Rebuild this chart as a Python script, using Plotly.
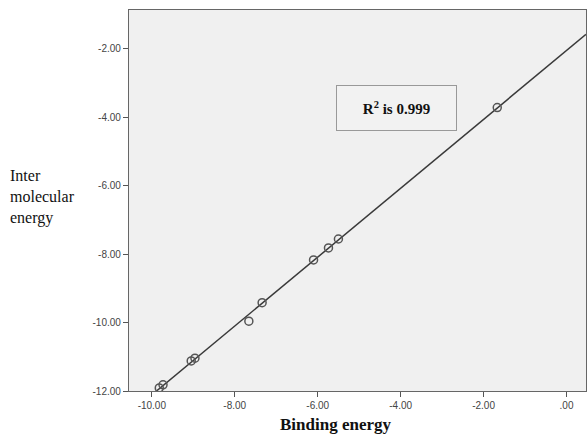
import numpy as np
import plotly.graph_objects as go

binding_energy = [-9.82, -9.73, -9.05, -8.96, -7.66, -7.34, -6.10, -5.74, -5.50, -1.67]
inter_energy = [-11.91, -11.82, -11.12, -11.04, -9.96, -9.42, -8.17, -7.82, -7.56, -3.72]

x_ticks = [-10, -8, -6, -4, -2, 0]
x_tick_labels = ["-10.00", "-8.00", "-6.00", "-4.00", "-2.00", ".00"]
y_ticks = [-2, -4, -6, -8, -10, -12]
y_tick_labels = ["-2.00", "-4.00", "-6.00", "-8.00", "-10.00", "-12.00"]

x_range = [-10.55, 0.47]
y_range = [-12.0, -0.87]

slope, intercept = np.polyfit(binding_energy, inter_energy, 1)
line_x = np.array(x_range)
line_y = slope * line_x + intercept

fig = go.Figure()
fig.add_trace(go.Scatter(x=line_x, y=line_y, mode="lines",
                         line=dict(color="#3a3a3a", width=1.5),
                         showlegend=False, hoverinfo="skip"))
fig.add_trace(go.Scatter(x=binding_energy, y=inter_energy, mode="markers",
                         marker=dict(symbol="circle-open", size=8,
                                     color="#555555", line=dict(width=1.5)),
                         showlegend=False))

fig.update_layout(
    width=587, height=436,
    margin=dict(l=129, r=1, t=10, b=45),
    paper_bgcolor="white",
    plot_bgcolor="#f0f0f0",
    font=dict(family="Liberation Sans, Arial", size=10, color="#444444"),
    xaxis=dict(range=x_range, tickvals=x_ticks, ticktext=x_tick_labels,
               showgrid=False, zeroline=False, ticks="outside", ticklen=5,
               tickcolor="#555555", showline=True, linecolor="#666666",
               linewidth=1.2, mirror=True),
    yaxis=dict(range=y_range, tickvals=y_ticks, ticktext=y_tick_labels,
               showgrid=False, zeroline=False, ticks="outside", ticklen=5,
               tickcolor="#555555", showline=True, linecolor="#666666",
               linewidth=1.2, mirror=True),
    annotations=[
        dict(text="Inter<br>molecular<br>energy", xref="paper", yref="paper",
             x=-121/457, y=0.51, xanchor="left", yanchor="middle", align="left",
             showarrow=False,
             font=dict(family="Liberation Serif, Times New Roman", size=16, color="#111111")),
        dict(text="<b>Binding energy</b>", xref="paper", yref="paper",
             x=(335-129)/457, y=-0.088, xanchor="center", yanchor="middle",
             showarrow=False,
             font=dict(family="Liberation Serif, Times New Roman", size=17, color="#111111")),
        dict(text="<b>R<sup>2</sup> is 0.999</b>", xref="x", yref="y",
             x=-4.10, y=-3.74, xanchor="center", yanchor="middle",
             showarrow=False, width=115, height=40, borderpad=2,
             bordercolor="#999999", borderwidth=1, bgcolor="#f2f2f2",
             font=dict(family="Liberation Serif, Times New Roman", size=15, color="#111111")),
    ],
)

fig.write_html("out.html", config={"displayModeBar": False})
with open("out.html", encoding="utf-8") as f:
    html = f.read()
html = html.replace("<body>", '<body style="margin:0;padding:0;overflow:hidden">', 1)
with open("out.html", "w", encoding="utf-8") as f:
    f.write(html)
